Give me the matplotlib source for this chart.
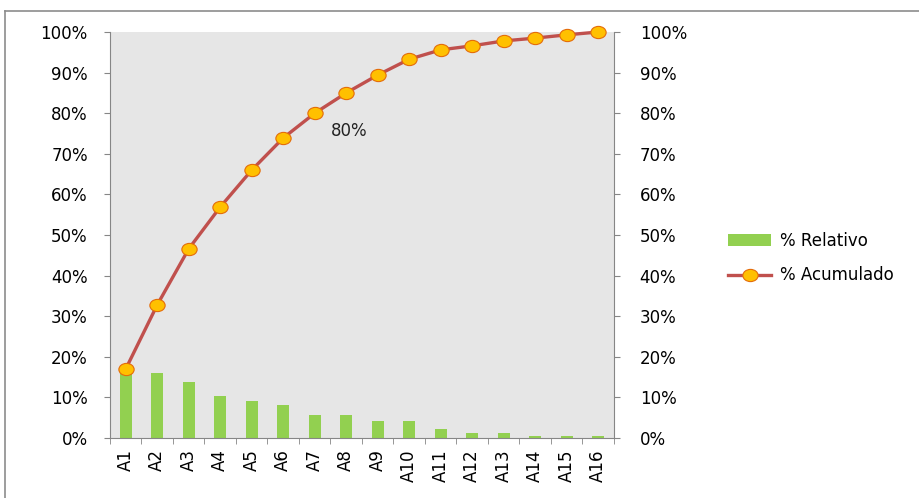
import numpy as np
import matplotlib

matplotlib.use("Agg")
import matplotlib.pyplot as plt
from matplotlib.lines import Line2D
from matplotlib.patches import Patch
from matplotlib.path import Path
from matplotlib.ticker import FixedLocator, PercentFormatter

categories = [f"A{i}" for i in range(1, 17)]
relativo = [17.0, 16.0, 13.7, 10.3, 9.0, 8.2, 5.6, 5.6, 4.3, 4.3, 2.1, 1.3, 1.3, 0.4, 0.4, 0.4]
acumulado = [17.0, 32.8, 46.6, 56.9, 66.0, 73.9, 80.0, 85.0, 89.4, 93.3, 95.6, 96.6, 97.8, 98.5, 99.3, 100.0]
y_ticks = list(range(0, 101, 10))

GREEN = "#92D050"
RED = "#C0504D"
GOLD = "#FFC000"
EDGE = "#E46C0A"
AXIS = "#868686"

# slightly flattened circle, like the reference markers
circ = Path.unit_circle()
oval = Path(circ.vertices * [1.0, 0.8], circ.codes)

plt.rcParams["font.family"] = "DejaVu Sans"
fig = plt.figure(figsize=(9.2, 4.98), dpi=100)
W, H = 920, 498

# outer chart frame
fig.add_artist(Line2D([5 / W, 1], [1 - 11 / H, 1 - 11 / H], color="#8c8c8c", lw=1.2))
fig.add_artist(Line2D([5 / W, 5 / W], [0, 1 - 11 / H], color="#8c8c8c", lw=1.2))

ax = fig.add_axes([110 / W, 60 / H, 504 / W, 406 / H])
ax.set_facecolor("#E6E6E6")
x = np.arange(len(categories))
ax.bar(x, relativo, width=0.39, color=GREEN, zorder=2)
ax.set_xlim(-0.5, len(categories) - 0.5)
ax.set_ylim(0, 100)
ax.yaxis.set_major_locator(FixedLocator(y_ticks))
ax.yaxis.set_major_formatter(PercentFormatter(decimals=0))
ax.set_xticks(x)
ax.set_xticklabels(categories, rotation=90, fontsize=12)
ax.set_xticks(np.arange(-0.5, len(categories)), minor=True)
ax.tick_params(axis="x", which="major", length=0, pad=8)
ax.tick_params(axis="x", which="minor", length=4.5, color=AXIS, direction="out")
ax.tick_params(axis="y", length=4.5, color=AXIS, labelsize=12, pad=11.5)
for side in ["top", "right"]:
    ax.spines[side].set_visible(False)
for side in ["left", "bottom"]:
    ax.spines[side].set_color(AXIS)

ax2 = ax.twinx()
ax2.set_ylim(0, 100)
ax2.yaxis.set_major_locator(FixedLocator(y_ticks))
ax2.yaxis.set_major_formatter(PercentFormatter(decimals=0))
ax2.tick_params(axis="y", length=4.5, color=AXIS, labelsize=12, pad=14)
for side in ["top", "left", "bottom"]:
    ax2.spines[side].set_visible(False)
ax2.spines["right"].set_color(AXIS)
ax2.plot(x, acumulado, color=RED, lw=2.4, marker=oval, ms=11,
         markerfacecolor=GOLD, markeredgecolor=EDGE, markeredgewidth=0.8, zorder=3,
         clip_on=False)
ax2.annotate("80%", (6, acumulado[6]), xytext=(34, -18), textcoords="offset pixels",
             ha="center", va="center", fontsize=12, color="#222222")

handles = [
    Patch(facecolor=GREEN, edgecolor="none"),
    Line2D([], [], color=RED, lw=2.4, marker=oval, ms=11,
           markerfacecolor=GOLD, markeredgecolor=EDGE, markeredgewidth=0.8),
]
fig.legend(handles, ["% Relativo", "% Acumulado"], loc="center left",
           bbox_to_anchor=(728 / W, 1 - 258 / H), frameon=False, fontsize=12,
           borderpad=0, borderaxespad=0,
           handlelength=2.6, handletextpad=0.55, labelspacing=1.0)

fig.savefig("out.png", dpi=100, facecolor="white")
